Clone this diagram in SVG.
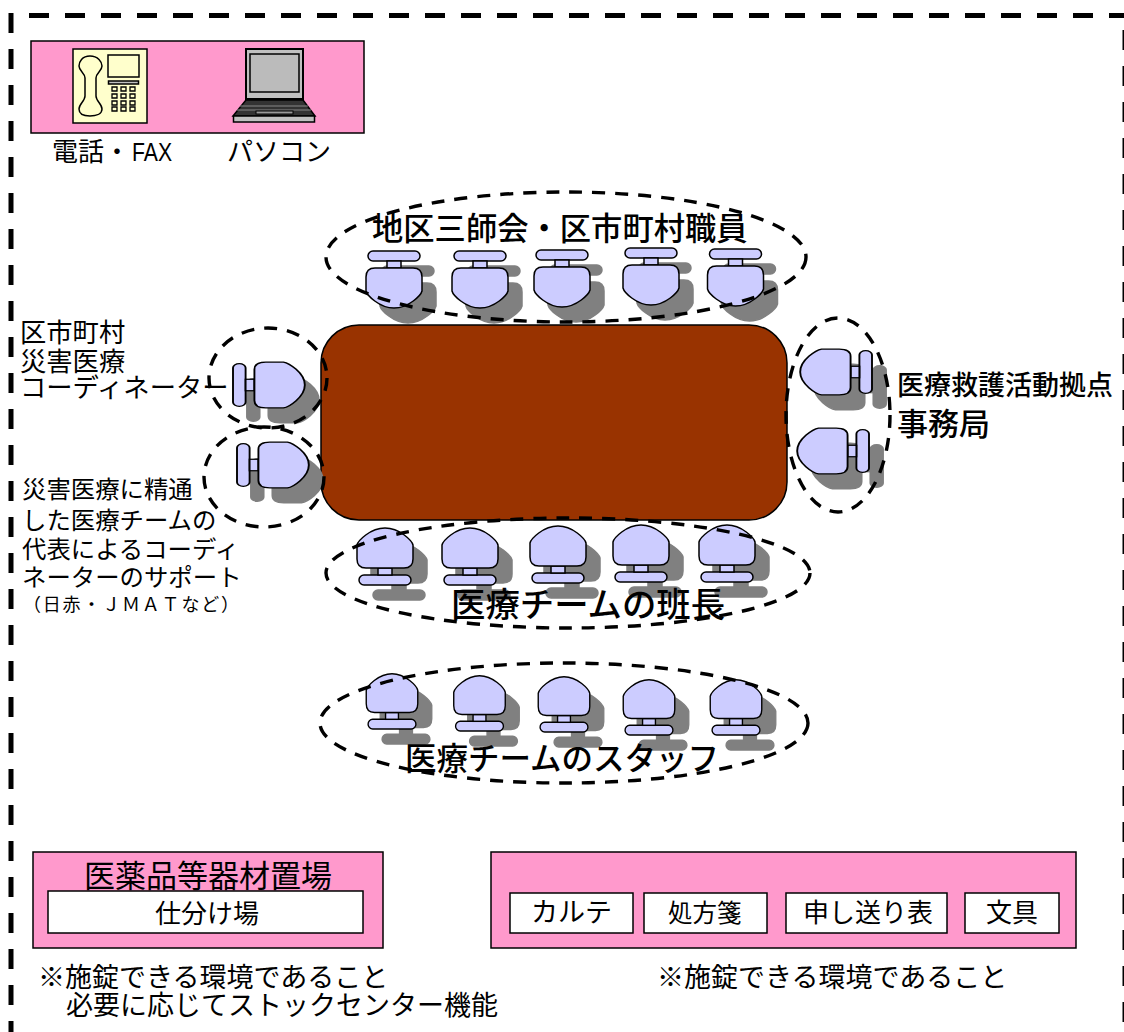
<svg xmlns="http://www.w3.org/2000/svg" width="1124" height="1032" viewBox="0 0 1124 1032">
<style>
text{font-family:"Noto Sans CJK JP","Liberation Sans",sans-serif;fill:#000}
.b{font-weight:500}
.p{fill:#ff99cc;stroke:#000;stroke-width:1.5}
.w{fill:#fff;stroke:#000;stroke-width:1.5}
.d{fill:none;stroke:#000;stroke-width:3.4;stroke-dasharray:13 10}
.f{fill:none;stroke:#000;stroke-width:5;stroke-dasharray:20 16}
.s{fill:#808080;stroke:#808080;stroke-width:1.5}
.c{fill:#ccccff;stroke:#000;stroke-width:1.5}
.g{fill:#c0c0c0;stroke:#000;stroke-width:1.5}
.y{fill:#ffffcc;stroke:#000;stroke-width:1.5}
</style>
<defs>
<g id="ch"><rect x="-26" y="0" width="52" height="10" rx="5"/><rect x="-7" y="10" width="14" height="7"/><path d="M-28 26Q-28 17 -19 17H19Q28 17 28 26V40C27 44 15 57 0 57C-15 57 -27 44 -28 40Z"/></g>
<g id="up"><use href="#ch" class="s" transform="translate(14,15)"/><use href="#ch" class="c"/></g>
<g id="dn"><use href="#ch" class="s" transform="translate(14,15) rotate(180)"/><use href="#ch" class="c" transform="rotate(180)"/></g>
<g id="dns"><use href="#ch" class="s" transform="translate(14,15) rotate(180) scale(.92,.97)"/><use href="#ch" class="c" transform="rotate(180) scale(.92,.97)"/></g>
<g id="lf"><use href="#ch" class="s" transform="translate(14,15) rotate(-90) scale(.82,1.26)"/><use href="#ch" class="c" transform="rotate(-90) scale(.82,1.26)"/></g>
<g id="rt"><use href="#ch" class="s" transform="translate(14,15) rotate(90) scale(.82,1.26)"/><use href="#ch" class="c" transform="rotate(90) scale(.82,1.26)"/></g>
</defs>
<rect width="1124" height="1032" fill="#fff"/>
<g id="frame">
<path class="f" d="M29 15.500H1124"/>
<path class="f" d="M11 13V1032"/>
<path class="f" d="M1125 30V1032"/>
</g>
<g id="equipment">
<rect class="p" x="31" y="41" width="333" height="92"/>
<g id="phone"><rect class="y" x="73" y="49" width="74" height="74"/><path d="M90 56C82 56 79 62 79 66C79 71 85 73 85 78V96C85 101 79 104 79 109C79 114 84 116 90 116C96 116 102 114 102 109C102 104 96 101 96 96V78C96 73 102 71 102 66C102 62 98 56 90 56Z" fill="none" stroke="#000" stroke-width="1.5"/><rect class="y" x="108" y="55" width="31" height="22"/><rect x="108.500" y="81" width="30" height="3" class="g"/><path d="M112 87h5v4h-5zM121 87h5v4h-5zM130 87h5v4h-5zM112 94h5v4h-5zM121 94h5v4h-5zM130 94h5v4h-5zM112 101h5v4h-5zM121 101h5v4h-5zM130 101h5v4h-5zM112 107h5v4h-5zM121 107h5v4h-5zM130 107h5v4h-5z" fill="#ffffcc" stroke="#000" stroke-width="1.300"/></g>
<g id="laptop"><rect x="246" y="49" width="57" height="50" fill="#c0c0c0" stroke="#000" stroke-width="2"/><rect x="250" y="54" width="49" height="38" fill="#bbb" stroke="#000" stroke-width="1.500"/><path d="M246 100H303L315 116H233Z" fill="#333" stroke="#000" stroke-width="1.500"/><path d="M240 106H308M237 110H311" stroke="#888" stroke-width="1"/><rect x="256" y="111" width="37" height="3" fill="#999" stroke="#000"/><rect class="g" x="233.500" y="116" width="81" height="6"/></g>
<text x="52" y="161" font-size="26">電話・<tspan x="132" textLength="40" lengthAdjust="spacingAndGlyphs" font-family="Liberation Sans">FAX</tspan></text>
<text x="227" y="161" font-size="26">パソコン</text>
</g>
<g id="table"><rect x="321" y="325" width="466" height="195" rx="38" fill="#993300" stroke="#000" stroke-width="1.500"/></g>
<g id="chairs-top">
<use href="#up" x="394" y="251"/><use href="#up" x="480" y="251"/><use href="#up" x="562" y="250"/><use href="#up" x="651" y="248"/><use href="#up" x="735.500" y="249"/>
</g>
<g id="chairs-bottom">
<use href="#dn" x="385" y="585"/><use href="#dn" x="470" y="585"/><use href="#dn" x="558" y="583"/><use href="#dn" x="641" y="582"/><use href="#dn" x="727" y="582"/>
</g>
<g id="chairs-staff">
<use href="#dns" x="392" y="729"/><use href="#dns" x="479.500" y="731"/><use href="#dns" x="564" y="732"/><use href="#dns" x="649" y="735"/><use href="#dns" x="736" y="735"/>
</g>
<g id="chairs-side">
<use href="#lf" x="233" y="385"/><use href="#lf" x="237" y="465"/><use href="#rt" x="872" y="372"/><use href="#rt" x="869" y="451"/>
</g>
<g id="connectors">
<ellipse class="d" cx="566" cy="257" rx="240" ry="65"/>
<ellipse class="d" cx="268" cy="378" rx="59" ry="50"/>
<ellipse class="d" cx="264" cy="477" rx="60" ry="50"/>
<ellipse class="d" cx="838" cy="415" rx="52" ry="97"/>
<ellipse class="d" cx="568" cy="573" rx="242" ry="55"/>
<ellipse class="d" cx="564" cy="723" rx="244" ry="60"/>
</g>
<g id="labels">
<text class="b" x="372" y="240" font-size="31.300">地区三師会・区市町村職員</text>
<text x="20" y="342" font-size="26.300">区市町村</text>
<text x="20" y="371" font-size="26.300">災害医療</text>
<text x="20" y="397" font-size="26.300">コーディネーター</text>
<text x="22" y="498" font-size="24.400">災害医療に精通</text>
<text x="22" y="529" font-size="24.400">した医療チームの</text>
<text x="22" y="558" font-size="24.400">代表によるコーディ</text>
<text x="22" y="586" font-size="24.400">ネーターのサポート</text>
<text x="23" y="611" font-size="18" letter-spacing="1.800">（日赤・ＪＭＡＴなど）</text>
<text class="b" x="897" y="395" font-size="27">医療救護活動拠点</text>
<text class="b" x="897" y="435" font-size="31">事務局</text>
<text class="b" x="451" y="617" font-size="34.400">医療チームの班長</text>
<text class="b" x="405" y="770" font-size="31.500">医療チームのスタッフ</text>
</g>
<g id="store-left">
<rect class="p" x="33" y="852" width="350" height="96"/>
<rect class="w" x="48" y="891" width="315" height="42"/>
<text x="84" y="887" font-size="31">医薬品等器材置場</text>
<text x="155" y="923" font-size="26">仕分け場</text>
<text x="38" y="987" font-size="27">※施錠できる環境であること</text>
<text x="66" y="1015" font-size="27">必要に応じてストックセンター機能</text>
</g>
<g id="store-right">
<rect class="p" x="491" y="852" width="585" height="96"/>
<rect class="w" x="510" y="893" width="123" height="40"/>
<rect class="w" x="644" y="893" width="123" height="40"/>
<rect class="w" x="786" y="893" width="161" height="40"/>
<rect class="w" x="965" y="893" width="94" height="40"/>
<text x="531" y="922" font-size="27">カルテ</text>
<text x="668" y="922" font-size="24.500">処方箋</text>
<text x="803" y="922" font-size="26">申し送り表</text>
<text x="986" y="922" font-size="26">文具</text>
<text x="657" y="987" font-size="27">※施錠できる環境であること</text>
</g>
</svg>
